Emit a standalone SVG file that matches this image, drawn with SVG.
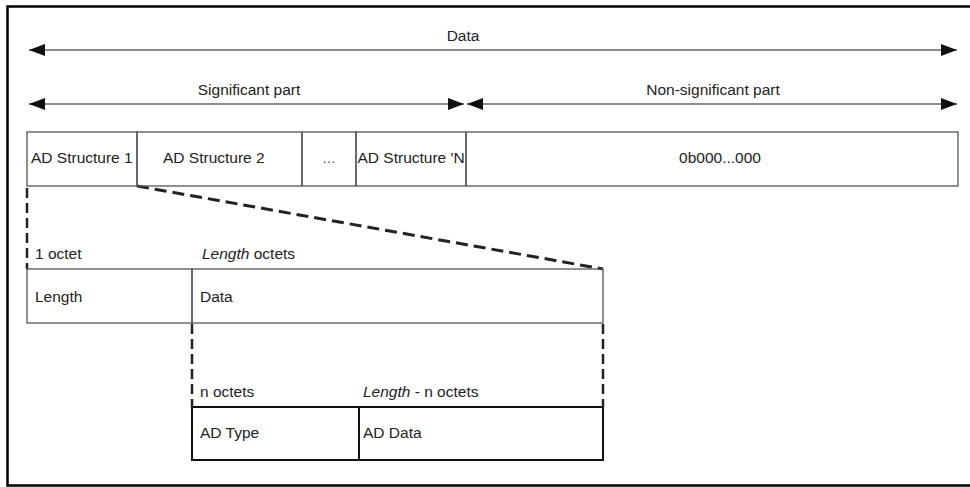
<svg xmlns="http://www.w3.org/2000/svg" width="970" height="487" viewBox="0 0 970 487">
<defs>
<style>
text{font-family:"Liberation Sans",Arial,sans-serif;font-size:15.5px;fill:#222}
.g{fill:none;stroke:#555;stroke-width:1.3}
.k{fill:none;stroke:#111;stroke-width:2}
.arr{stroke:#666;stroke-width:1.5;fill:none}
.d{stroke:#222;stroke-width:3;fill:none;stroke-dasharray:12 6}
.dv{stroke:#222;stroke-width:2.5;fill:none;stroke-dasharray:10 5}
</style>
<marker id="ah" viewBox="0 0 16 12" refX="16" refY="6" markerWidth="16" markerHeight="12" markerUnits="userSpaceOnUse" orient="auto-start-reverse">
<path d="M0,0 L16,6 L0,12 Z" fill="#111"/>
</marker>
</defs>
<rect width="970" height="487" fill="#fff"/>
<path d="M975,6.5 H7.5 V485.5 H975" fill="none" stroke="#000" stroke-width="2.5"/>

<g id="connectors">
<line class="arr" x1="29" y1="50" x2="957" y2="50" marker-start="url(#ah)" marker-end="url(#ah)"/>
<line class="arr" x1="29" y1="104" x2="464" y2="104" marker-start="url(#ah)" marker-end="url(#ah)"/>
<line class="arr" x1="467" y1="104" x2="957" y2="104" marker-start="url(#ah)" marker-end="url(#ah)"/>
<line class="d" x1="137" y1="186" x2="603" y2="269"/>
<line class="dv" x1="27" y1="188" x2="27" y2="269"/>
<line class="dv" x1="192" y1="324" x2="192" y2="407"/>
<line class="dv" x1="603" y1="324" x2="603" y2="407"/>
</g>

<g id="labels">
<text x="463" y="41" text-anchor="middle">Data</text>
<text x="249" y="95" text-anchor="middle">Significant part</text>
<text x="713" y="95" text-anchor="middle">Non-significant part</text>
<text x="35" y="259">1 octet</text>
<text x="202" y="259"><tspan font-style="italic">Length</tspan> octets</text>
<text x="200" y="397">n octets</text>
<text x="363" y="397"><tspan font-style="italic">Length</tspan> - n octets</text>
</g>

<g id="ad1"><rect class="g" x="27" y="132" width="110" height="54"/><text x="31" y="163">AD Structure 1</text></g>
<g id="ad2"><rect class="g" x="137" y="132" width="165" height="54"/><text x="163" y="163">AD Structure 2</text></g>
<g id="dots"><rect class="g" x="302" y="132" width="54" height="54"/><text x="329" y="163" text-anchor="middle" style="fill:#666">...</text></g>
<g id="adn"><rect class="g" x="356" y="132" width="110" height="54"/><text x="357.5" y="163">AD Structure 'N</text></g>
<g id="zeros"><rect class="g" x="466" y="132" width="492" height="54"/><text x="720" y="163" text-anchor="middle">0b000...000</text></g>

<g id="length"><rect class="g" x="27" y="269" width="165" height="54"/><text x="35" y="302">Length</text></g>
<g id="data"><rect class="g" x="192" y="269" width="411" height="54"/><text x="200" y="302">Data</text></g>

<g id="adtype"><rect class="k" x="192" y="407" width="167" height="53"/><text x="200" y="438">AD Type</text></g>
<g id="addata"><rect class="k" x="359" y="407" width="244" height="53"/><text x="363" y="438">AD Data</text></g>
</svg>
